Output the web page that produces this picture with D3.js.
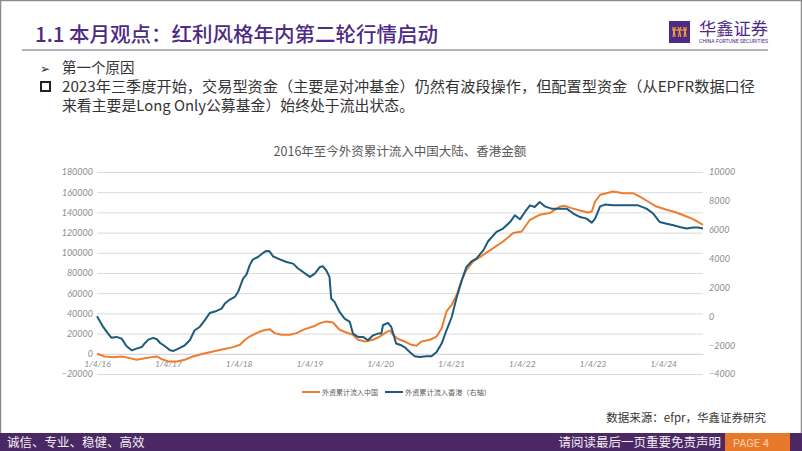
<!DOCTYPE html>
<html><head><meta charset="utf-8">
<script src="https://cdn.jsdelivr.net/npm/d3@7/dist/d3.min.js"></script>
<style>
html,body{margin:0;padding:0;background:#fff;}
svg{display:block;}
</style></head>
<body>
<svg id="c" width="802" height="451"></svg>
<script>
// ---------- data ----------
const chartTitle = "2016年至今外资累计流入中国大陆、香港金额";
const seriesNames = ["外资累计流入中国", "外资累计流入香港（右轴）"];
const leftTicks = [-20000,0,20000,40000,60000,80000,100000,120000,140000,160000,180000];
const rightTicks = [-4000,-2000,0,2000,4000,6000,8000,10000];
const xTickDates = ["2016-01-04","2017-01-04","2018-01-04","2019-01-04","2020-01-04","2021-01-04","2022-01-04","2023-01-04","2024-01-04"];

const chinaDates = ["2016-01-04","2016-02-14","2016-03-27","2016-05-10","2016-06-22","2016-07-26","2016-09-08","2016-10-12","2016-11-08","2016-12-03",
"2017-01-07","2017-02-19","2017-04-01","2017-05-13","2017-07-04","2017-08-25","2017-10-16","2017-12-07",
"2018-01-11","2018-02-06","2018-03-02","2018-04-06","2018-05-10","2018-06-13","2018-07-09","2018-08-13","2018-09-25","2018-10-30","2018-12-12",
"2019-01-24","2019-02-28","2019-04-01","2019-05-06","2019-06-09","2019-07-14","2019-08-17","2019-09-12","2019-10-17","2019-11-29",
"2020-01-04","2020-01-29","2020-02-24","2020-03-11","2020-04-06","2020-05-10","2020-06-14","2020-07-10","2020-08-05","2020-09-18","2020-10-22","2020-11-17","2020-12-12",
"2021-01-08","2021-02-03","2021-03-01","2021-03-25","2021-04-29","2021-06-20","2021-08-10","2021-09-30","2021-11-21",
"2022-01-04","2022-02-16","2022-04-07","2022-05-29","2022-07-20","2022-08-15","2022-09-18","2022-11-01","2022-12-13",
"2023-01-01","2023-01-18","2023-02-13","2023-03-17","2023-04-21","2023-06-11","2023-08-02","2023-09-06","2023-10-18","2023-12-01",
"2024-01-22","2024-03-13","2024-05-04","2024-06-07","2024-07-28"];
const chinaValues = [0,-2600,-3300,-2600,-4300,-5900,-4300,-3300,-2600,-5300,
-7600,-7600,-5900,-2600,0,2300,4600,6600,
8900,13900,17100,20500,23100,24400,20500,18800,18800,20500,24400,
27000,30400,32000,31000,23800,21100,18800,13900,12200,13900,
17100,20500,23100,18800,14600,12200,8900,7900,12200,13900,17100,25400,41900,
48500,58400,73300,83200,91400,98000,104600,111200,119500,
121100,132700,137600,139300,145800,146500,144200,141900,139900,
140900,150800,157400,159000,160700,159000,159000,155700,150800,145800,
142600,139900,135900,133400,127700];

const hkDates = ["2016-01-04","2016-02-05","2016-03-01","2016-03-18","2016-04-14","2016-05-10","2016-06-05","2016-07-01","2016-07-26","2016-08-22","2016-09-08","2016-09-25","2016-10-20","2016-11-08","2016-11-25","2016-12-20",
"2017-01-16","2017-02-02","2017-02-27","2017-04-01","2017-04-27","2017-05-22","2017-06-17","2017-07-13","2017-08-08","2017-09-12","2017-10-08","2017-10-25","2017-11-20","2017-12-15",
"2018-01-01","2018-01-27","2018-02-14","2018-03-02","2018-03-18","2018-04-14","2018-05-10","2018-05-27","2018-06-13","2018-06-30","2018-07-26","2018-09-08","2018-10-12","2018-11-07",
"2019-01-07","2019-02-01","2019-02-28","2019-03-14","2019-04-01","2019-04-18","2019-04-27","2019-05-14","2019-06-09","2019-07-05","2019-08-01","2019-08-17","2019-09-12","2019-10-08","2019-11-03","2019-11-29","2019-12-24",
"2020-01-11","2020-01-19","2020-02-14","2020-03-02","2020-03-27","2020-04-23","2020-05-09","2020-06-05","2020-07-01","2020-07-27","2020-09-01","2020-09-26","2020-10-22","2020-11-17","2020-12-12",
"2021-01-08","2021-02-03","2021-03-01","2021-03-25","2021-04-20","2021-05-15","2021-06-20","2021-07-15","2021-08-27","2021-09-30","2021-11-05","2021-11-30","2021-12-26",
"2022-01-21","2022-02-16","2022-03-12","2022-04-07","2022-05-03","2022-06-07","2022-07-20","2022-08-24","2022-09-28","2022-11-02","2022-12-05",
"2023-01-01","2023-01-18","2023-02-13","2023-03-09","2023-04-21","2023-07-16","2023-08-28","2023-10-10","2023-11-14","2023-12-18",
"2024-01-22","2024-02-26","2024-03-30","2024-05-04","2024-06-07","2024-07-03","2024-07-28"];
const hkValues = [0,-740,-1200,-1480,-1430,-1550,-2080,-2360,-2240,-2130,-1850,-1620,-1500,-1590,-1850,-2080,
-2360,-2400,-2240,-2010,-1660,-970,-740,-280,230,370,530,880,1160,1340,
1680,2610,2910,3530,3930,4110,4390,4530,4500,4160,4000,3760,3650,3310,
2730,2960,3420,3470,3190,2730,1230,1000,300,-160,-390,-1200,-1430,-1430,-1660,-1320,-1200,
-1200,-620,-460,-740,-1890,-2010,-2130,-2470,-2770,-2820,-2770,-2770,-2470,-1890,-970,
-50,1340,2490,3420,3800,4000,4570,5200,5850,6080,6530,7000,6720,
7230,7690,7570,7920,7620,7460,7460,7460,7120,6880,6770,
6490,6770,7620,7740,7690,7690,7690,7460,7120,6530,
6420,6310,6190,6080,6150,6150,6080];

// ---------- drawing ----------
const svg = d3.select("#c");
const parse = d3.timeParse("%Y-%m-%d");
const purple = "#4b2763", titlePurple = "#4e2a84", orange = "#ed7d31", blue = "#1d5a7c";
const cjk = "'Noto Sans CJK SC','Noto Sans',sans-serif";

// slide border
svg.append("rect").attr("x",0.5).attr("y",0.5).attr("width",801).attr("height",450)
  .attr("fill","none").attr("stroke","#8c8c8c").attr("stroke-width",1.5);

// header
svg.append("text").attr("x",35).attr("y",42).attr("font-family",cjk).attr("font-size",20)
  .attr("font-weight",500).attr("fill",titlePurple)
  .attr("textLength",403).attr("lengthAdjust","spacingAndGlyphs")
  .text("1.1 本月观点：红利风格年内第二轮行情启动");
svg.append("line").attr("x1",22).attr("x2",768).attr("y1",50).attr("y2",50)
  .attr("stroke","#b4b4bf").attr("stroke-width",2);
// logo
svg.append("rect").attr("x",669).attr("y",21).attr("width",21).attr("height",22).attr("fill",titlePurple);
const lg = svg.append("g").attr("stroke","#f2a23a").attr("stroke-width",1.2).attr("fill","none");
lg.append("line").attr("x1",672).attr("x2",687).attr("y1",30).attr("y2",30);
[674,679.5,685].forEach(px=>{
  lg.append("path").attr("d",`M${px-1.5},27 L${px},30 L${px-1},37`);
  lg.append("path").attr("d",`M${px+1.5},27 L${px},30 L${px+1.2},37`);
});
svg.append("text").attr("x",699).attr("y",35).attr("font-family",cjk).attr("font-size",17)
  .attr("fill",titlePurple).attr("textLength",69).attr("lengthAdjust","spacingAndGlyphs").text("华鑫证券");
svg.append("text").attr("x",699).attr("y",43).attr("font-family","Roboto,sans-serif").attr("font-size",4.6)
  .attr("fill",titlePurple).attr("textLength",69).attr("lengthAdjust","spacingAndGlyphs").text("CHINA FORTUNE SECURITIES");

// bullets
svg.append("text").attr("x",40).attr("y",73).attr("font-family","'DejaVu Sans',sans-serif").attr("font-size",12)
  .attr("fill","#333").text("➢");
svg.append("text").attr("x",62).attr("y",73).attr("font-family",cjk).attr("font-size",14.5)
  .attr("fill","#333").text("第一个原因");
svg.append("rect").attr("x",41).attr("y",82).attr("width",9).attr("height",9)
  .attr("fill","none").attr("stroke","#222").attr("stroke-width",2);
svg.append("text").attr("x",62).attr("y",92).attr("font-family",cjk).attr("font-size",14.5)
  .attr("fill","#333").attr("textLength",693).attr("lengthAdjust","spacingAndGlyphs")
  .text("2023年三季度开始，交易型资金（主要是对冲基金）仍然有波段操作，但配置型资金（从EPFR数据口径");
svg.append("text").attr("x",62).attr("y",111).attr("font-family",cjk).attr("font-size",14.5)
  .attr("fill","#333").attr("textLength",352).attr("lengthAdjust","spacingAndGlyphs")
  .text("来看主要是Long Only公募基金）始终处于流出状态。");

// chart
const x = d3.scaleTime().domain([parse("2016-01-04"), parse("2024-07-28")]).range([97,703]);
const yL = d3.scaleLinear().domain([-20000,180000]).range([374,172]);
const yR = d3.scaleLinear().domain([-4000,10000]).range([374,172]);
const axisFont = "Lato,'DejaVu Sans',sans-serif";

svg.append("text").attr("x",400).attr("y",156).attr("text-anchor","middle").attr("font-family",cjk)
  .attr("font-size",12.5).attr("fill","#595959").text(chartTitle);

const gl = svg.append("g").attr("transform","translate(97,0)")
  .call(d3.axisLeft(yL).tickValues(leftTicks).tickSize(-606).tickPadding(4).tickFormat(d3.format("d")));
gl.select(".domain").remove();
gl.selectAll(".tick line").attr("stroke","#d9d9d9");
gl.selectAll(".tick text").attr("fill","#8c8c8c").attr("font-family",axisFont).attr("font-style","italic").attr("font-size",9);

const gr = svg.append("g").attr("transform","translate(703,0)")
  .call(d3.axisRight(yR).tickValues(rightTicks).tickSize(0).tickPadding(6).tickFormat(d3.format("d")));
gr.select(".domain").remove();
gr.selectAll(".tick text").attr("fill","#8c8c8c").attr("font-family",axisFont).attr("font-style","italic").attr("font-size",9);

const gx = svg.append("g").attr("transform",`translate(0,${yL(0)})`)
  .call(d3.axisBottom(x).tickValues(xTickDates.map(parse)).tickSize(0).tickPadding(7).tickFormat(d3.timeFormat("%-m/%-d/%y")));
gx.select(".domain").attr("stroke","#d9d9d9");
gx.selectAll(".tick text").attr("fill","#8c8c8c").attr("font-family",axisFont).attr("font-style","italic").attr("font-size",8.5);

const chinaData = chinaDates.map((d,i)=>({d:parse(d),v:chinaValues[i]}));
const hkData = hkDates.map((d,i)=>({d:parse(d),v:hkValues[i]}));
svg.append("path").datum(chinaData).attr("fill","none").attr("stroke",orange).attr("stroke-width",2)
  .attr("stroke-linejoin","round").attr("d",d3.line().x(p=>x(p.d)).y(p=>yL(p.v)));
svg.append("path").datum(hkData).attr("fill","none").attr("stroke",blue).attr("stroke-width",2)
  .attr("stroke-linejoin","round").attr("d",d3.line().x(p=>x(p.d)).y(p=>yR(p.v)));

// legend
const leg = [{n:seriesNames[0],c:orange,x:302,w:56},{n:seriesNames[1],c:blue,x:385,w:86}];
leg.forEach(l=>{
  svg.append("line").attr("x1",l.x).attr("x2",l.x+18).attr("y1",392).attr("y2",392).attr("stroke",l.c).attr("stroke-width",2);
  svg.append("text").attr("x",l.x+20).attr("y",394.5).attr("font-family",cjk).attr("font-size",7)
    .attr("fill","#595959").attr("textLength",l.w).attr("lengthAdjust","spacingAndGlyphs").text(l.n);
});

// source
svg.append("text").attr("x",766).attr("y",422).attr("text-anchor","end").attr("font-family",cjk)
  .attr("font-size",11.5).attr("fill","#333").text("数据来源：efpr，华鑫证券研究");

// footer
svg.append("rect").attr("x",0).attr("y",433).attr("width",802).attr("height",18).attr("fill",purple);
svg.append("rect").attr("x",725).attr("y",433).attr("width",65).attr("height",18).attr("fill","#e8782a");
svg.append("text").attr("x",7).attr("y",447).attr("font-family",cjk).attr("font-size",12.5)
  .attr("fill","#f2eef5").text("诚信、专业、稳健、高效");
svg.append("text").attr("x",721).attr("y",447).attr("text-anchor","end").attr("font-family",cjk).attr("font-size",12.5)
  .attr("fill","#f2eef5").text("请阅读最后一页重要免责声明");
svg.append("text").attr("x",733).attr("y",446.5).attr("font-family","Roboto,sans-serif").attr("font-size",11)
  .attr("fill","#f9d2ad").text("PAGE  4");
</script>
</body></html>
